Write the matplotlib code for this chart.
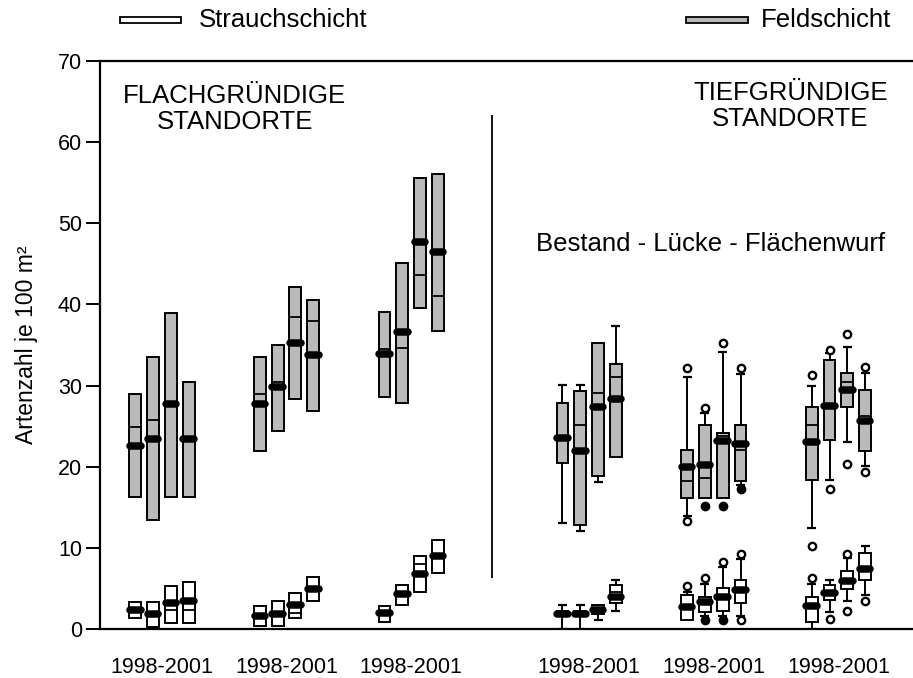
import matplotlib.pyplot as plt
from matplotlib.patches import Rectangle

plt.rcParams['font.family'] = ['Liberation Sans', 'DejaVu Sans']

# Lage der Gruppen (je 4 Boxen: Bestand, Lücke, Flächenwurf, ...)
gruppen = [0, 7, 14, 24, 31, 38]
versatz = [-1.5, -0.5, 0.5, 1.5]
x_labels = ['1998-2001'] * 6

# ---- Flachgründige Standorte (nur Spannweite, Median, Mittelwert) ----
feld_flach_min = [16.3, 13.4, 16.3, 16.3, 21.9, 24.4, 28.4, 26.9, 28.6, 27.9, 39.6, 36.7]
feld_flach_max = [29.0, 33.5, 39.0, 30.4, 33.5, 35.0, 42.1, 40.5, 39.1, 45.1, 55.6, 56.1]
feld_flach_med = [24.9, 25.8, 28.0, 23.6, 28.9, 30.4, 38.5, 38.0, 34.5, 34.6, 43.6, 41.1]
feld_flach_mw = [22.6, 23.4, 27.7, 23.4, 27.7, 29.8, 35.3, 33.8, 33.9, 36.6, 47.7, 46.5]

str_flach_min = [1.3, 0.3, 0.8, 0.8, 0.4, 0.4, 1.4, 3.4, 0.9, 2.9, 4.5, 6.9]
str_flach_max = [3.3, 3.3, 5.3, 5.8, 2.8, 3.4, 4.4, 6.4, 2.8, 5.4, 9.0, 11.0]
str_flach_med = [2.3, 1.8, 2.4, 2.4, 1.6, 1.9, 2.0, 4.9, 2.0, 4.3, 8.0, 9.0]
str_flach_mw = [2.3, 1.8, 3.2, 3.4, 1.6, 1.9, 2.9, 4.9, 2.0, 4.3, 6.8, 9.0]

# ---- Tiefgründige Standorte (Boxplots) ----
feld_tief_q1 = [20.5, 12.8, 18.9, 21.2, 16.1, 16.2, 16.2, 18.2, 18.4, 23.3, 27.3, 21.9]
feld_tief_q3 = [27.8, 29.3, 35.2, 32.7, 22.1, 25.1, 24.1, 25.1, 27.4, 33.2, 31.5, 29.5]
feld_tief_med = [23.5, 25.1, 29.1, 31.1, 18.2, 18.6, 23.8, 22.1, 25.2, 27.5, 30.5, 26.2]
feld_tief_mw = [23.5, 21.9, 27.3, 28.3, 20.0, 20.2, 23.2, 22.8, 23.0, 27.5, 29.4, 25.6]
feld_tief_wlo = [13.1, 12.1, 18.1, 21.2, 13.9, 16.2, 16.2, 17.7, 12.5, 18.4, 23.0, 20.1]
feld_tief_whi = [30.1, 30.1, 35.2, 37.3, 31.1, 26.6, 34.1, 31.4, 29.9, 34.0, 34.7, 31.5]
feld_tief_aus = [[], [], [], [], [32.2, 13.35], [27.2], [35.3], [32.2],
                 [31.3], [34.4, 17.25], [36.4, 20.3], [32.3, 19.3]]
feld_tief_ext = [[], [], [], [], [], [15.2], [15.2], [17.25], [], [], [], []]

str_tief_q1 = [1.6, 1.6, 1.85, 3.2, 1.1, 2.1, 2.25, 3.25, 0.9, 3.6, 4.9, 6.0]
str_tief_q3 = [2.2, 2.2, 2.96, 5.4, 4.2, 4.0, 5.0, 6.0, 3.9, 5.4, 7.2, 9.4]
str_tief_med = [1.9, 1.9, 2.4, 4.5, 2.75, 3.6, 3.9, 4.8, 2.83, 4.4, 5.9, 7.35]
str_tief_mw = [1.9, 1.9, 2.4, 3.9, 2.75, 3.37, 3.9, 4.8, 2.83, 4.4, 5.9, 7.35]
str_tief_wlo = [0.0, 0.0, 1.1, 2.2, 1.1, 1.6, 1.6, 1.6, 0.0, 2.1, 3.4, 4.2]
str_tief_whi = [3.0, 3.0, 2.96, 6.0, 4.6, 5.5, 7.6, 8.6, 5.6, 6.1, 8.7, 10.2]
str_tief_aus = [[], [], [], [], [5.35], [6.25], [8.2], [9.25, 1.1],
                [6.25, 10.2], [1.2], [9.3, 2.25], [3.4]]
str_tief_ext = [[], [], [], [], [], [1.1], [1.1], [], [], [], [], []]

GRAU = '#bababa'
BREITE = 0.67


def boxen(ax, pos, q1, q3, med, mw, wlo, whi, farbe, aus=None, ext=None):
    hoehe = [b - a for a, b in zip(q1, q3)]
    ax.bar(pos, hoehe, bottom=q1, width=BREITE, color=farbe,
           edgecolor='black', linewidth=1.4, zorder=3)
    for i, p in enumerate(pos):
        if wlo[i] < q1[i]:
            ax.vlines(p, wlo[i], q1[i], color='black', lw=1.4, zorder=2)
            ax.hlines(wlo[i], p - 0.25, p + 0.25, color='black', lw=1.6, zorder=2)
        if whi[i] > q3[i]:
            ax.vlines(p, q3[i], whi[i], color='black', lw=1.4, zorder=2)
            ax.hlines(whi[i], p - 0.25, p + 0.25, color='black', lw=1.6, zorder=2)
        ax.hlines(med[i], p - BREITE / 2, p + BREITE / 2, color='black', lw=1.3, zorder=4)
        ax.plot([p - 0.3, p + 0.3], [mw[i], mw[i]], color='black', lw=5.4,
                solid_capstyle='round', zorder=5)
        if aus:
            for v in aus[i]:
                ax.scatter(p, v, s=28, facecolor='white', edgecolor='black',
                           linewidth=1.7, zorder=6)
        if ext:
            for v in ext[i]:
                ax.scatter(p, v, s=36, color='black', zorder=6)


fig = plt.figure(figsize=(9.13, 6.78), dpi=100)
ax = fig.add_axes([100 / 913, 1 - 629 / 678, 813 / 913, 568 / 678])

pos_flach = [g + v for g in gruppen[:3] for v in versatz]
pos_tief = [g + v for g in gruppen[3:] for v in versatz]

boxen(ax, pos_flach, feld_flach_min, feld_flach_max, feld_flach_med, feld_flach_mw,
      feld_flach_min, feld_flach_max, GRAU)
boxen(ax, pos_flach, str_flach_min, str_flach_max, str_flach_med, str_flach_mw,
      str_flach_min, str_flach_max, 'white')
boxen(ax, pos_tief, feld_tief_q1, feld_tief_q3, feld_tief_med, feld_tief_mw,
      feld_tief_wlo, feld_tief_whi, GRAU, feld_tief_aus, feld_tief_ext)
boxen(ax, pos_tief, str_tief_q1, str_tief_q3, str_tief_med, str_tief_mw,
      str_tief_wlo, str_tief_whi, 'white', str_tief_aus, str_tief_ext)

# Trennlinie
ax.vlines(18.54, 6.3, 63.3, color='black', lw=1.3)

ax.text(4.1, 64.1, 'FLACHGRÜNDIGE\nSTANDORTE', ha='center', va='center',
        fontsize=18.5, linespacing=1.1)
ax.text(35.3, 64.4, 'TIEFGRÜNDIGE\nSTANDORTE', ha='center', va='center',
        fontsize=18.5, linespacing=1.1)
ax.text(30.8, 47.4, 'Bestand - Lücke - Flächenwurf', ha='center', va='center',
        fontsize=18.5)

ax.set_xlim(-3.48, 42.19)
ax.set_ylim(0, 70)
ax.set_yticks(range(0, 71, 10))
ax.set_xticks(gruppen)
ax.set_xticklabels(x_labels)
ax.tick_params(axis='y', direction='out', length=10, width=1.4, pad=3, labelsize=15.5)
ax.tick_params(axis='x', length=0, pad=20, labelsize=15.5)
ax.set_ylabel('Artenzahl je 100 m²', fontsize=16.5, labelpad=14)
ax.spines['right'].set_visible(False)
for s in ['left', 'bottom', 'top']:
    ax.spines[s].set_linewidth(1.6)

# Legende oben
fig.add_artist(Rectangle((120 / 913, 1 - 23 / 678), 61 / 913, 6 / 678,
                         transform=fig.transFigure, facecolor='white',
                         edgecolor='black', linewidth=1.3))
fig.text(199 / 913, 1 - 20 / 678, 'Strauchschicht', fontsize=18.5, va='center')
fig.add_artist(Rectangle((686 / 913, 1 - 23 / 678), 62 / 913, 6 / 678,
                         transform=fig.transFigure, facecolor=GRAU,
                         edgecolor='black', linewidth=1.3))
fig.text(761 / 913, 1 - 20 / 678, 'Feldschicht', fontsize=18.5, va='center')

fig.savefig('out.png', dpi=100)
